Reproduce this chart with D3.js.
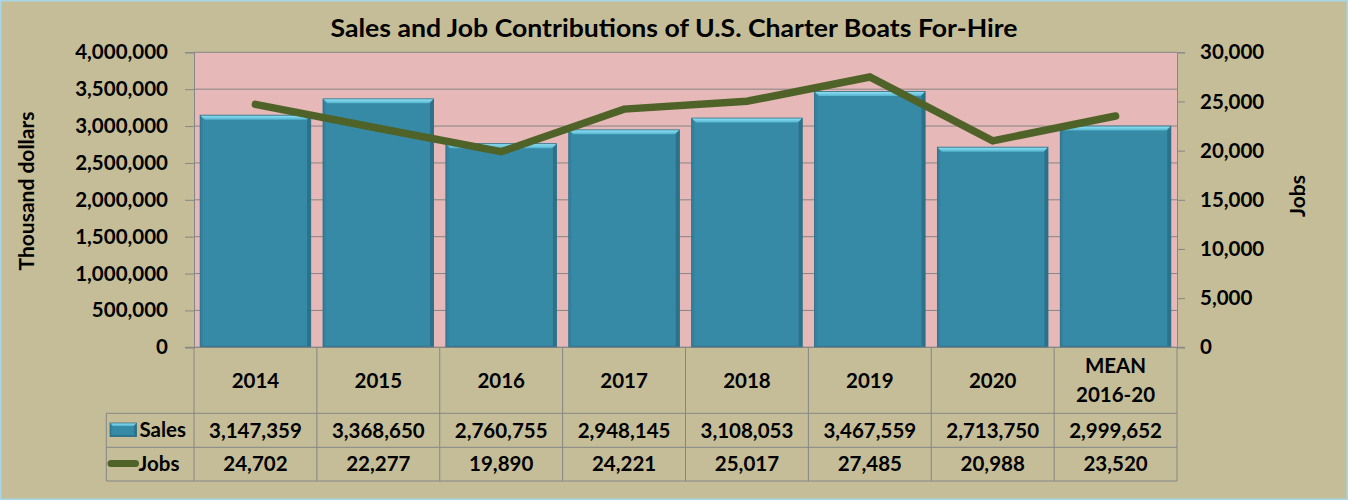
<!DOCTYPE html>
<html><head><meta charset="utf-8">
<script src="https://cdn.jsdelivr.net/npm/d3@7/dist/d3.min.js"></script>
<style>html,body{margin:0;padding:0;background:#C4BD97;}svg{display:block;}</style>
</head><body>
<script>
const categories = ["2014","2015","2016","2017","2018","2019","2020","MEAN\n2016-20"];
const sales = [3147359,3368650,2760755,2948145,3108053,3467559,2713750,2999652];
const jobs = [24702,22277,19890,24221,25017,27485,20988,23520];
const salesTicks = [0,500000,1000000,1500000,2000000,2500000,3000000,3500000,4000000];
const jobsTicks = [0,5000,10000,15000,20000,25000,30000];
const title = "Sales and Job Contributions of U.S. Charter Boats For-Hire";

const W=1348,H=500;
const L=194,R=1177,T=52.3,B=347.3;
const rowCatB=413.3,rowSalesB=447.3,rowJobsB=481,tableL=106.3;
const FONT="Lato, 'Open Sans', sans-serif";
const fmt=d3.format(",");

const svg=d3.select("body").append("svg").attr("width",W).attr("height",H);
const defs=svg.append("defs");
const g1=defs.append("linearGradient").attr("id","bev").attr("x1",0).attr("y1",0).attr("x2",0).attr("y2",1);
g1.append("stop").attr("offset","0%").attr("stop-color","#95E4F6");
g1.append("stop").attr("offset","100%").attr("stop-color","#52B3CE");

svg.append("rect").attr("x",0.5).attr("y",0.5).attr("width",W-1).attr("height",H-1).attr("fill","#C4BD97").attr("stroke","#A9D6E6").attr("stroke-width",2);

const x=d3.scaleBand().domain(categories).range([L,R]).padding(0);
const xb=d3.scaleBand().domain(categories).range([L,R]).paddingInner(0.1).paddingOuter(0.05);
const y=d3.scaleLinear().domain([0,4000000]).range([B,T]);
const y2=d3.scaleLinear().domain([0,30000]).range([B,T]);

svg.append("rect").attr("x",L).attr("y",T).attr("width",R-L).attr("height",B-T).attr("fill","#E6B8B7");

svg.append("g").selectAll("line").data(salesTicks).join("line")
 .attr("x1",L).attr("x2",R).attr("y1",d=>y(d)).attr("y2",d=>y(d)).attr("stroke","#868686").attr("stroke-width",1);

const axL=svg.append("g").attr("transform",`translate(${L},0)`).call(d3.axisLeft(y).tickValues(salesTicks).tickFormat(fmt).tickSize(9).tickPadding(17));
axL.select(".domain").attr("stroke","#868686");
axL.selectAll(".tick line").attr("stroke","#868686");
axL.selectAll("text").attr("font-family",FONT).attr("font-weight","bold").attr("font-size",20.5).attr("fill","#000");

const axR=svg.append("g").attr("transform",`translate(${R},0)`).call(d3.axisRight(y2).tickValues(jobsTicks).tickFormat(fmt).tickSize(8).tickPadding(15));
axR.select(".domain").attr("stroke","#868686");
axR.selectAll(".tick line").attr("stroke","#868686");
axR.selectAll("text").attr("font-family",FONT).attr("font-weight","bold").attr("font-size",20.5).attr("fill","#000");

function bevelBar(gr,bx,by,bw,bh,bv){
  gr.append("rect").attr("x",bx).attr("y",by).attr("width",bw).attr("height",bh).attr("fill","#378AA5");
  gr.append("polygon").attr("points",`${bx+bw},${by} ${bx+bw},${by+bh} ${bx+bw-bv*0.8},${by+bh} ${bx+bw-bv*0.8},${by+bv}`).attr("fill","#2B7189");
  gr.append("polygon").attr("points",`${bx},${by} ${bx+bv*0.6},${by+bv} ${bx+bv*0.6},${by+bh} ${bx},${by+bh}`).attr("fill","#3281A0");
  gr.append("rect").attr("x",bx).attr("y",by+bh-1.5).attr("width",bw).attr("height",1.5).attr("fill","#2D7690");
  gr.append("polygon").attr("points",`${bx},${by} ${bx+bw},${by} ${bx+bw-bv},${by+bv} ${bx+bv},${by+bv}`).attr("fill","url(#bev)");
  gr.append("rect").attr("x",bx).attr("y",by).attr("width",bw).attr("height",bh).attr("fill","none").attr("stroke","#2C6F86").attr("stroke-width",0.8);
}
const gb=svg.append("g");
categories.forEach((c,i)=>{
  const bx=xb(c), bw=xb.bandwidth(), by=y(sales[i]), bh=B-y(sales[i]);
  bevelBar(gb.append("g"),bx,by,bw,bh,4.5);
});

const line=d3.line().x((d,i)=>x(categories[i])+x.bandwidth()/2).y(d=>y2(d));
svg.append("path").datum(jobs).attr("d",line).attr("fill","none").attr("stroke","#4F6228").attr("stroke-width",7.5)
 .attr("stroke-linecap","round").attr("stroke-linejoin","miter");

svg.append("line").attr("x1",185).attr("x2",1185).attr("y1",B).attr("y2",B).attr("stroke","#868686");

const tg=svg.append("g").attr("stroke","#868686").attr("stroke-width",1);
const bounds=categories.map(c=>x(c)).concat([R]);
bounds.forEach(bx=>tg.append("line").attr("x1",bx).attr("x2",bx).attr("y1",B).attr("y2",rowJobsB));
[rowCatB,rowSalesB,rowJobsB].forEach(yy=>tg.append("line").attr("x1",tableL).attr("x2",R).attr("y1",yy).attr("y2",yy));
tg.append("line").attr("x1",tableL).attr("x2",tableL).attr("y1",rowCatB).attr("y2",rowJobsB);

const txt=svg.append("g").attr("font-family",FONT).attr("font-weight","bold").attr("font-size",20.5).attr("fill","#000").attr("text-anchor","middle");
categories.forEach((c,i)=>{
  const cx=x(c)+x.bandwidth()/2;
  const parts=c.split("\n");
  if(parts.length===1){
    txt.append("text").attr("x",cx).attr("y",388).text(parts[0]);
  } else {
    txt.append("text").attr("x",cx).attr("y",373).text(parts[0]);
    txt.append("text").attr("x",cx).attr("y",402.3).text(parts[1]);
  }
  txt.append("text").attr("x",cx).attr("y",437.5).text(fmt(sales[i]));
  txt.append("text").attr("x",cx).attr("y",470.5).text(fmt(jobs[i]));
});

bevelBar(svg.append("g"),110,423,26.5,13.5,3);
svg.append("line").attr("x1",111).attr("x2",135.5).attr("y1",463.4).attr("y2",463.4).attr("stroke","#4F6228").attr("stroke-width",7).attr("stroke-linecap","round");
txt.append("text").attr("x",139.5).attr("y",437).attr("text-anchor","start").text("Sales");
txt.append("text").attr("x",138.5).attr("y",470.5).attr("text-anchor","start").text("Jobs");

svg.append("text").attr("x",674).attr("y",37).attr("text-anchor","middle").attr("font-family",FONT).attr("font-weight","bold")
 .attr("font-size",25).attr("textLength",687).attr("lengthAdjust","spacingAndGlyphs").text(title);
svg.append("text").attr("transform","translate(34,191) rotate(-90)").attr("text-anchor","middle").attr("font-family",FONT).attr("font-weight","bold").attr("font-size",21).text("Thousand dollars");
svg.append("text").attr("transform","translate(1305,196) rotate(-90)").attr("text-anchor","middle").attr("font-family",FONT).attr("font-weight","bold").attr("font-size",21).text("Jobs");
</script>
</body></html>
